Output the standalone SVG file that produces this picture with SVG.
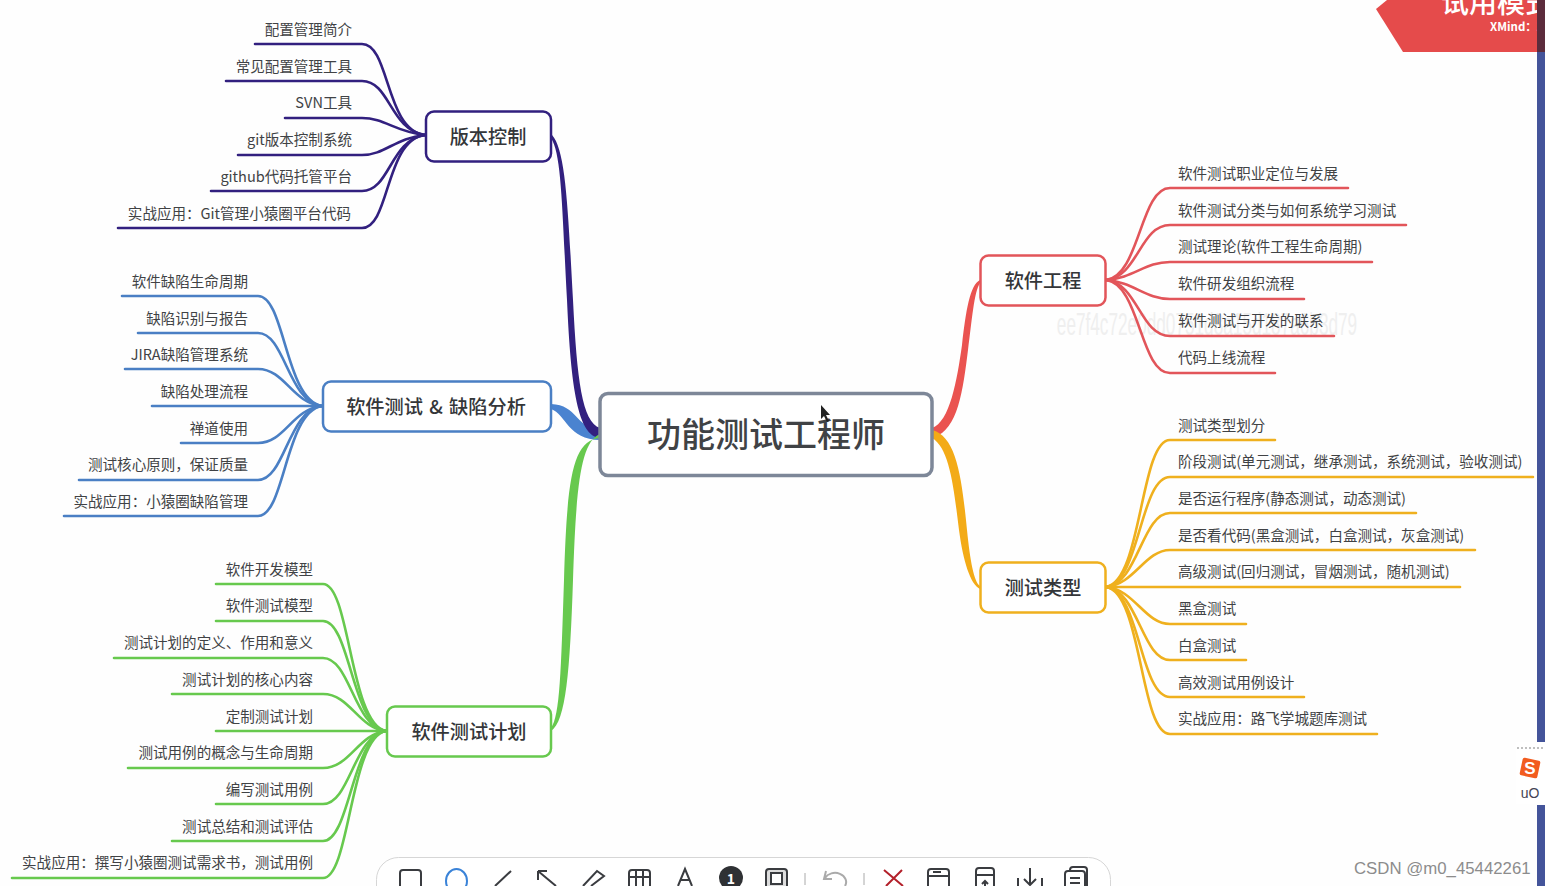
<svg xmlns="http://www.w3.org/2000/svg" width="1545" height="886" viewBox="0 0 1545 886">
<style>
text{font-family:"Noto Sans CJK SC","Noto Sans",sans-serif;fill:#3a3c40}
.leaf{font-size:14.55px}
.l{text-anchor:end}
.g{opacity:.97}
.topic{font-size:19.2px;font-weight:500;text-anchor:middle;fill:#2e3033}
.box{fill:#fff;stroke-width:2.5}
.w{fill:none;stroke-width:2.6;stroke-linecap:round}
.ic{fill:none;stroke:#3a3c40;stroke-width:2}
</style>
<rect width="1545" height="886" fill="#fefefe"/>
<text x="1207" y="335" font-size="31" text-anchor="middle" style="font-family:'Liberation Sans',sans-serif;fill:#efefef" transform="translate(1207 0) scale(.555 1) translate(-1207 0)">ee7f4c72e0dd0751d8a15d187a6b3d79</text>
<g id="connectors">
<path fill="#4a83d0" d="M551 404C578 405 575 428 600 429L600 440C568 440 566 414 551 409Z"/>
<path fill="#32207f" d="M552 135C566 150 568 210 573 300C577 380 582 422 600 428L600 438C578 436 571 390 567 300C562 210 562 155 551 138Z"/>
<path fill="#67c94e" d="M600 434C580 442 576 490 573 580C570 670 566 722 551 731L551 728C560 716 561 670 564 580C567 480 572 440 600 438Z"/>
<path fill="#ea5350" d="M932 428C950 422 957 380 962 345C966 310 970 285 980 280L980 283C974 292 972 320 968 350C963 390 958 430 934 437Z"/>
<path fill="#f3ab17" d="M932 430C957 436 962 480 967 530C970 560 974 582 980 586L980 589C970 584 963 560 959 530C954 490 950 448 932 438Z"/>
<g class="w" stroke="#32207f">
<path d="M425 135C385 130 390 44 362 44H255"/><path d="M425 135C390 130 390 81 362 81H226"/><path d="M425 135C395 132 385 118 362 118H285"/><path d="M425 135C395 138 385 155 362 155H238"/><path d="M425 135C390 140 390 191 362 191H211"/><path d="M425 135C385 140 390 228 362 228H118"/>
</g>
<g class="w" stroke="#4a7fc4">
<path d="M322 406C285 400 285 296 258 296H122"/><path d="M322 406C288 402 285 333 258 333H138"/><path d="M322 406C292 403 285 369 258 369H125"/><path d="M322 406H152"/><path d="M322 406C292 409 285 443 258 443H181"/><path d="M322 406C288 410 285 480 258 480H79"/><path d="M322 406C285 412 285 516 258 516H64"/>
</g>
<g class="w" stroke="#67c94e">
<path d="M386 731C350 725 350 584 323 584H216"/><path d="M386 731C352 726 350 621 323 621H216"/><path d="M386 731C354 727 350 658 323 658H114"/><path d="M386 731C358 728 350 694 323 694H172"/><path d="M386 731H216"/><path d="M386 731C358 734 350 768 323 768H128"/><path d="M386 731C354 735 350 804 323 804H216"/><path d="M386 731C352 736 350 841 323 841H172"/><path d="M386 731C350 737 350 878 323 878H12"/>
</g>
<g class="w" stroke="#e2555a">
<path d="M1106 280C1140 276 1140 188 1170 188H1348"/><path d="M1106 280C1138 277 1140 225 1170 225H1406"/><path d="M1106 280C1134 278 1145 262 1170 262H1372"/><path d="M1106 280C1134 282 1145 299 1170 299H1304"/><path d="M1106 280C1138 283 1140 336 1170 336H1334"/><path d="M1106 280C1140 284 1140 373 1170 373H1275"/>
</g>
<g class="w" stroke="#efb01e">
<path d="M1106 587C1142 582 1140 440 1170 440H1275"/><path d="M1106 587C1140 583 1140 477 1170 477H1533"/><path d="M1106 587C1138 584 1142 513 1170 513H1416"/><path d="M1106 587C1134 585 1145 550 1170 550H1475"/><path d="M1106 587H1460"/><path d="M1106 587C1134 589 1145 624 1170 624H1246"/><path d="M1106 587C1138 590 1142 660 1170 660H1246"/><path d="M1106 587C1140 591 1140 697 1170 697H1304"/><path d="M1106 587C1142 592 1140 734 1170 734H1377"/>
</g>
</g>
<g id="root"><rect x="600" y="393.500" width="332" height="82" rx="8" fill="#fff" stroke="#7d8798" stroke-width="3.500"/><text class="g" x="766" y="446.500" font-size="34" font-weight="500" text-anchor="middle">功能测试工程师</text></g>
<g id="t1"><rect class="box" x="426" y="111.500" width="125" height="50" rx="8" stroke="#32207f"/><text class="topic g" x="488" y="143.500">版本控制</text></g>
<g id="t2"><rect class="box" x="323" y="381.500" width="228" height="50" rx="8" stroke="#4a7fc4"/><text class="topic g" x="436" y="413.500" word-spacing="2">软件测试 &amp; 缺陷分析</text></g>
<g id="t3"><rect class="box" x="387" y="706.500" width="164" height="50" rx="8" stroke="#67c94e"/><text class="topic g" x="469" y="738.500">软件测试计划</text></g>
<g id="t4"><rect class="box" x="980.500" y="255.500" width="125" height="50" rx="8" stroke="#e2555a"/><text class="topic g" x="1043" y="287.500">软件工程</text></g>
<g id="t5"><rect class="box" x="980.500" y="562.500" width="125" height="50" rx="8" stroke="#efb01e"/><text class="topic g" x="1043" y="594.500">测试类型</text></g>
<g id="leaves1" class="g">
<text class="leaf l" x="352" y="34.500">配置管理简介</text><text class="leaf l" x="352" y="71.500">常见配置管理工具</text><text class="leaf l" x="352" y="108">SVN工具</text><text class="leaf l" x="352" y="145">git版本控制系统</text><text class="leaf l" x="352" y="181.500">github代码托管平台</text><text class="leaf l" x="351" y="218.500">实战应用：Git管理小猿圈平台代码</text>
</g>
<g id="leaves2" class="g">
<text class="leaf l" x="248" y="286.500">软件缺陷生命周期</text><text class="leaf l" x="248" y="323.500">缺陷识别与报告</text><text class="leaf l" x="248" y="360">JIRA缺陷管理系统</text><text class="leaf l" x="248" y="396.500">缺陷处理流程</text><text class="leaf l" x="248" y="433.500">禅道使用</text><text class="leaf l" x="248" y="470">测试核心原则，保证质量</text><text class="leaf l" x="248" y="506.500">实战应用：小猿圈缺陷管理</text>
</g>
<g id="leaves3" class="g">
<text class="leaf l" x="313" y="574.500">软件开发模型</text><text class="leaf l" x="313" y="611">软件测试模型</text><text class="leaf l" x="313" y="648">测试计划的定义、作用和意义</text><text class="leaf l" x="313" y="684.500">测试计划的核心内容</text><text class="leaf l" x="313" y="721.500">定制测试计划</text><text class="leaf l" x="313" y="758">测试用例的概念与生命周期</text><text class="leaf l" x="313" y="794.500">编写测试用例</text><text class="leaf l" x="313" y="831.500">测试总结和测试评估</text><text class="leaf l" x="313" y="868">实战应用：撰写小猿圈测试需求书，测试用例</text>
</g>
<g id="leaves4" class="g">
<text class="leaf" x="1178" y="178.500">软件测试职业定位与发展</text><text class="leaf" x="1178" y="215.500">软件测试分类与如何系统学习测试</text><text class="leaf" x="1178" y="252">测试理论(软件工程生命周期)</text><text class="leaf" x="1178" y="289">软件研发组织流程</text><text class="leaf" x="1178" y="325.500">软件测试与开发的联系</text><text class="leaf" x="1178" y="362.500">代码上线流程</text>
</g>
<g id="leaves5" class="g">
<text class="leaf" x="1178" y="430.500">测试类型划分</text><text class="leaf" x="1178" y="467">阶段测试(单元测试，继承测试，系统测试，验收测试)</text><text class="leaf" x="1178" y="503.500">是否运行程序(静态测试，动态测试)</text><text class="leaf" x="1178" y="540.500">是否看代码(黑盒测试，白盒测试，灰盒测试)</text><text class="leaf" x="1178" y="577">高级测试(回归测试，冒烟测试，随机测试)</text><text class="leaf" x="1178" y="614">黑盒测试</text><text class="leaf" x="1178" y="650.500">白盒测试</text><text class="leaf" x="1178" y="687.500">高效测试用例设计</text><text class="leaf" x="1178" y="724">实战应用：路飞学城题库测试</text>
</g>
<path d="M821 405l0 14 3-3 3 6 2-1-3-6 4 0z" fill="#222"/>
<g id="banner">
<path d="M1376 9L1387 0H1545V52H1403Z" fill="#e54b4b"/>
<text x="1441" y="13" font-size="28" font-weight="500" style="fill:#fff">试用模式</text>
<text x="1490" y="31" font-size="11.500" font-weight="700" style="fill:#fff">XMind：Z</text>
<rect x="1537" y="0" width="8" height="52" fill="#5c2c3c"/>
<rect x="1537" y="52" width="8" height="690" fill="#44549a"/>
<rect x="1537" y="805" width="8" height="81" fill="#44549a"/>
</g>
<g id="sogou">
<rect x="1516" y="742" width="29" height="62" fill="#fff"/>
<path d="M1517 748H1545" stroke="#aaa" stroke-width="1.500" stroke-dasharray="2 2"/>
<rect x="1521" y="759" width="18" height="18" rx="2" fill="#f25c1f" transform="rotate(12 1530 768)"/>
<text x="1530" y="774" font-size="17" font-weight="700" text-anchor="middle" style="fill:#fff;font-family:'Liberation Sans',sans-serif">S</text>
<text x="1530" y="798" font-size="14" text-anchor="middle" style="fill:#445;font-family:'Liberation Sans',sans-serif">uO</text>
</g>
<g id="toolbar">
<rect x="376.500" y="857.500" width="734" height="60" rx="22" fill="#fff" stroke="#d6d6d6"/>
<path class="ic" d="M400 886V873a3 3 0 0 1 3-3h15a3 3 0 0 1 3 3v13"/>
<ellipse cx="456.500" cy="881" rx="10.500" ry="12" fill="none" stroke="#3a83d8" stroke-width="2"/>
<path class="ic" d="M495 886L511 871"/>
<path class="ic" d="M538 871L556 886M538 871v9M538 871h9"/>
<path class="ic" d="M583 886L597 871l7 5-13 10"/>
<path class="ic" d="M629 886V873a3 3 0 0 1 3-3h15a3 3 0 0 1 3 3v13M629 877h21M636 870v16M643 870v16"/>
<path class="ic" d="M678 886L685 869l7 17M681 880h8"/>
<circle cx="731" cy="878" r="12" fill="#2f3134"/><text x="731" y="884" font-size="14" font-weight="700" text-anchor="middle" style="fill:#fff">1</text>
<rect x="766" y="869" width="21" height="20" rx="3" fill="#ddd" stroke="#3a3c40" stroke-width="2"/><rect x="771" y="873" width="11" height="11" fill="#fff" stroke="#3a3c40" stroke-width="2"/>
<path d="M805 873v12M864 873v12" stroke="#aaa" stroke-width="1"/>
<path d="M826 871l-2 8 8 0M825 878a11 9 0 1 1 20 8" fill="none" stroke="#aaa" stroke-width="2"/>
<path d="M884 870L903 886M902 870L886 886" stroke="#b3202a" stroke-width="2" fill="none"/>
<path class="ic" d="M928 886V872a3 3 0 0 1 3-3h15a3 3 0 0 1 3 3v14M928 876h21M933 872h8" />
<path class="ic" d="M976 886V871a3 3 0 0 1 3-3h12a3 3 0 0 1 3 3v15M976 875h18M985 886v-5M982 884l3-3 3 3"/>
<path class="ic" d="M1030 868v17M1024 879l6 6 6-6M1018 878v8M1042 878v8"/>
<path class="ic" d="M1065 886V874a3 3 0 0 1 3-3h14a3 3 0 0 1 3 3v12M1070 871v-1a3 3 0 0 1 3-3h11a3 3 0 0 1 3 3v16M1070 878h10M1070 883h10"/>
</g>
<text x="1354" y="874" font-size="16.800" style="fill:#8c8c8c;font-family:'Liberation Sans',sans-serif">CSDN @m0_45442261</text>
</svg>
